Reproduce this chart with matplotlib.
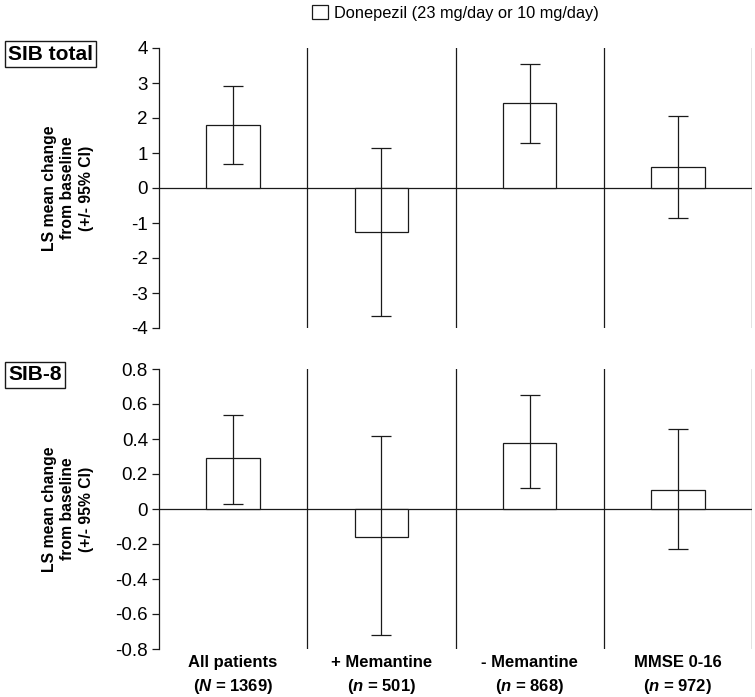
import matplotlib
matplotlib.use("Agg")
import matplotlib.pyplot as plt
import numpy as np

plt.rcParams['font.family'] = ['Liberation Sans', 'DejaVu Sans']
plt.rcParams['mathtext.fontset'] = 'custom'
plt.rcParams['mathtext.it'] = 'Liberation Sans:bold:italic'
plt.rcParams['mathtext.rm'] = 'Liberation Sans:bold'

categories = ["All patients\n($\\it{N}$ = 1369)", "+ Memantine\n($\\it{n}$ = 501)",
              "- Memantine\n($\\it{n}$ = 868)", "MMSE 0-16\n($\\it{n}$ = 972)"]
legend_label = "Donepezil (23 mg/day or 10 mg/day)"
ylabel = "LS mean change\nfrom baseline\n(+/- 95% CI)"

sib_total_mean = [1.80, -1.25, 2.43, 0.60]
sib_total_lo = [0.69, -3.65, 1.30, -0.86]
sib_total_hi = [2.91, 1.15, 3.53, 2.06]

sib8_mean = [0.29, -0.16, 0.38, 0.11]
sib8_lo = [0.03, -0.72, 0.12, -0.23]
sib8_hi = [0.54, 0.42, 0.65, 0.46]

panels = [
    ("SIB total", sib_total_mean, sib_total_lo, sib_total_hi, (-4, 4), np.arange(-4, 5, 1), "{:.0f}"),
    ("SIB-8", sib8_mean, sib8_lo, sib8_hi, (-0.8, 0.8), np.round(np.arange(-0.8, 0.81, 0.2), 1), "{:g}"),
]

W, H = 755, 697
fig = plt.figure(figsize=(W / 100, H / 100), dpi=100)
lc = '#1a1a1a'
lw = 0.9

axes_px = [(159, 48, 752, 328), (159, 369, 752, 649)]
x = np.arange(len(categories))
for i, ((title, mean, lo, hi, ylim, ticks, fmt), (x0, y0, x1, y1)) in enumerate(zip(panels, axes_px)):
    ax = fig.add_axes([x0 / W, 1 - y1 / H, (x1 - x0) / W, (y1 - y0) / H])
    mean = np.array(mean); lo = np.array(lo); hi = np.array(hi)
    bars = ax.bar(x, mean, width=0.36, color='white', edgecolor=lc, linewidth=lw,
                  label=legend_label, zorder=2)
    ax.errorbar(x, mean, yerr=[mean - lo, hi - mean], fmt='none', ecolor=lc,
                elinewidth=lw, capsize=7, capthick=lw, zorder=3)
    ax.axhline(0, color=lc, lw=lw, zorder=1)
    for d in np.arange(0.5, len(categories), 1):
        ax.axvline(d, color=lc, lw=lw, zorder=1)
    ax.set_xlim(-0.5, len(categories) - 0.5)
    ax.set_ylim(*ylim)
    ax.set_yticks(ticks)
    ax.set_yticklabels([fmt.format(t) if abs(t) > 1e-9 else "0" for t in ticks])
    for s in ['top', 'right', 'bottom']:
        ax.spines[s].set_visible(False)
    ax.spines['left'].set_color(lc)
    ax.spines['left'].set_linewidth(lw)
    ax.tick_params(axis='y', length=5, width=lw, color=lc, labelsize=13.5, pad=3)
    ax.tick_params(axis='x', length=0)
    if i == 1:
        ax.set_xticks(x)
        ax.set_xticklabels(categories, fontsize=12, fontweight='bold', linespacing=1.55)
        ax.tick_params(axis='x', pad=4)
    else:
        ax.set_xticks([])
    fig.text(68 / W, 1 - ((y0 + y1) / 2) / H, ylabel, rotation=90, fontsize=11.3,
             fontweight='bold', linespacing=1.3, ha='center', va='center')
    fig.text(8 / W, 1 - (y0 + 6) / H, title, fontsize=15, fontweight='bold',
             ha='left', va='center',
             bbox=dict(boxstyle='square,pad=0.15', fc='white', ec=lc, lw=1.0))
    if i == 0:
        handle = bars

fig.legend([handle], [legend_label], loc='upper left', bbox_to_anchor=(305 / W, 1 + 2 / H),
           frameon=False, fontsize=11.8, handlelength=1.0, handleheight=1.0,
           handletextpad=0.4, borderaxespad=0.0)

fig.savefig("out.png", dpi=100)
